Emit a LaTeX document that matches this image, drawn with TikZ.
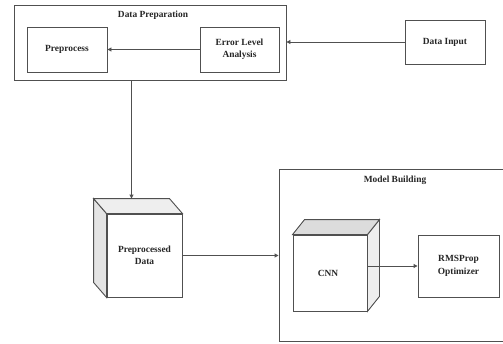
\documentclass[tikz,border=0pt]{standalone}
\usepackage{fontspec}
\setmainfont{Liberation Serif}
\usetikzlibrary{arrows.meta,calc}
\definecolor{linec}{HTML}{505050}
\definecolor{sidec}{HTML}{E4E4E4}
\definecolor{topc}{HTML}{EEEEEE}
\definecolor{cnntop}{HTML}{DCDCDC}
\begin{document}
\begin{tikzpicture}[x=1pt,y=-1pt,
  every node/.style={font=\fontsize{9.4}{12.5}\selectfont\bfseries, text=black!85, align=center, inner sep=0pt},
  box/.style={draw=linec, line width=0.9pt, fill=white},
  container/.style={draw=linec, line width=0.9pt},
  face/.style={draw=linec, line width=0.9pt},
  conn/.style={draw=linec, line width=0.9pt, -{Triangle[length=4pt,width=4pt]}},
  title/.style={}]
\clip (0,0) rectangle (503,343);
\fill[white] (0,0) rectangle (503,343);

% Data Preparation container
\node[container, minimum width=272pt, minimum height=75pt] (dp) at (150,42.5) {};
\node[title] (dptitle) at (153,15) {Data Preparation};
\node[box, minimum width=80pt, minimum height=45pt] (pre) at (67,49.5) {Preprocess};
\node[box, minimum width=79pt, minimum height=45pt] (ela) at (239.5,49.5) {Error Level\\Analysis};
\node[box, minimum width=80pt, minimum height=44pt] (di) at (445,42) {Data Input};

% Preprocessed Data cube (depth to upper-left)
\node[box, minimum width=75pt, minimum height=83pt] (ppd) at (144.5,255.5) {};
\path[face, fill=sidec] (ppd.north west) -- ++(-13,-15) -- ($(ppd.south west)+(-13,-15)$) -- (ppd.south west) -- cycle;
\path[face, fill=topc] (ppd.north west) -- ++(-13,-15) -- ($(ppd.north east)+(-13,-15)$) -- (ppd.north east) -- cycle;
\node (ppdtext) at (144.5,255.5) {Preprocessed\\Data};
\coordinate (ppdtop) at ($(ppd.north)+(-13,-15)$);

% Model Building container
\node[container, minimum width=241pt, minimum height=172pt] (mb) at (399.5,255) {};
\node[title] (mbtitle) at (395,180) {Model Building};

% CNN cube (depth to upper-right)
\node[box, minimum width=74pt, minimum height=76pt] (cnn) at (330,273) {};
\path[face, fill=topc] (cnn.north east) -- ++(12,-15) -- ($(cnn.south east)+(12,-15)$) -- (cnn.south east) -- cycle;
\path[face, fill=cnntop] (cnn.north west) -- ++(12,-15) -- ($(cnn.north east)+(12,-15)$) -- (cnn.north east) -- cycle;
\node (cnntext) at (328,273) {CNN};

\node[box, minimum width=81pt, minimum height=62pt] (rms) at (458.5,266) {RMSProp\\Optimizer};

% connectors
\draw[conn] (di.west) -- (di.west -| dp.east);
\draw[conn] (ela.west) -- (pre.east);
\draw[conn] (dp.south -| ppdtop) -- (ppdtop);
\draw[conn] (ppd.east) -- (ppd.east -| mb.west);
\draw[conn] (rms.west -| cnn.east) -- (rms.west);
\end{tikzpicture}
\end{document}
